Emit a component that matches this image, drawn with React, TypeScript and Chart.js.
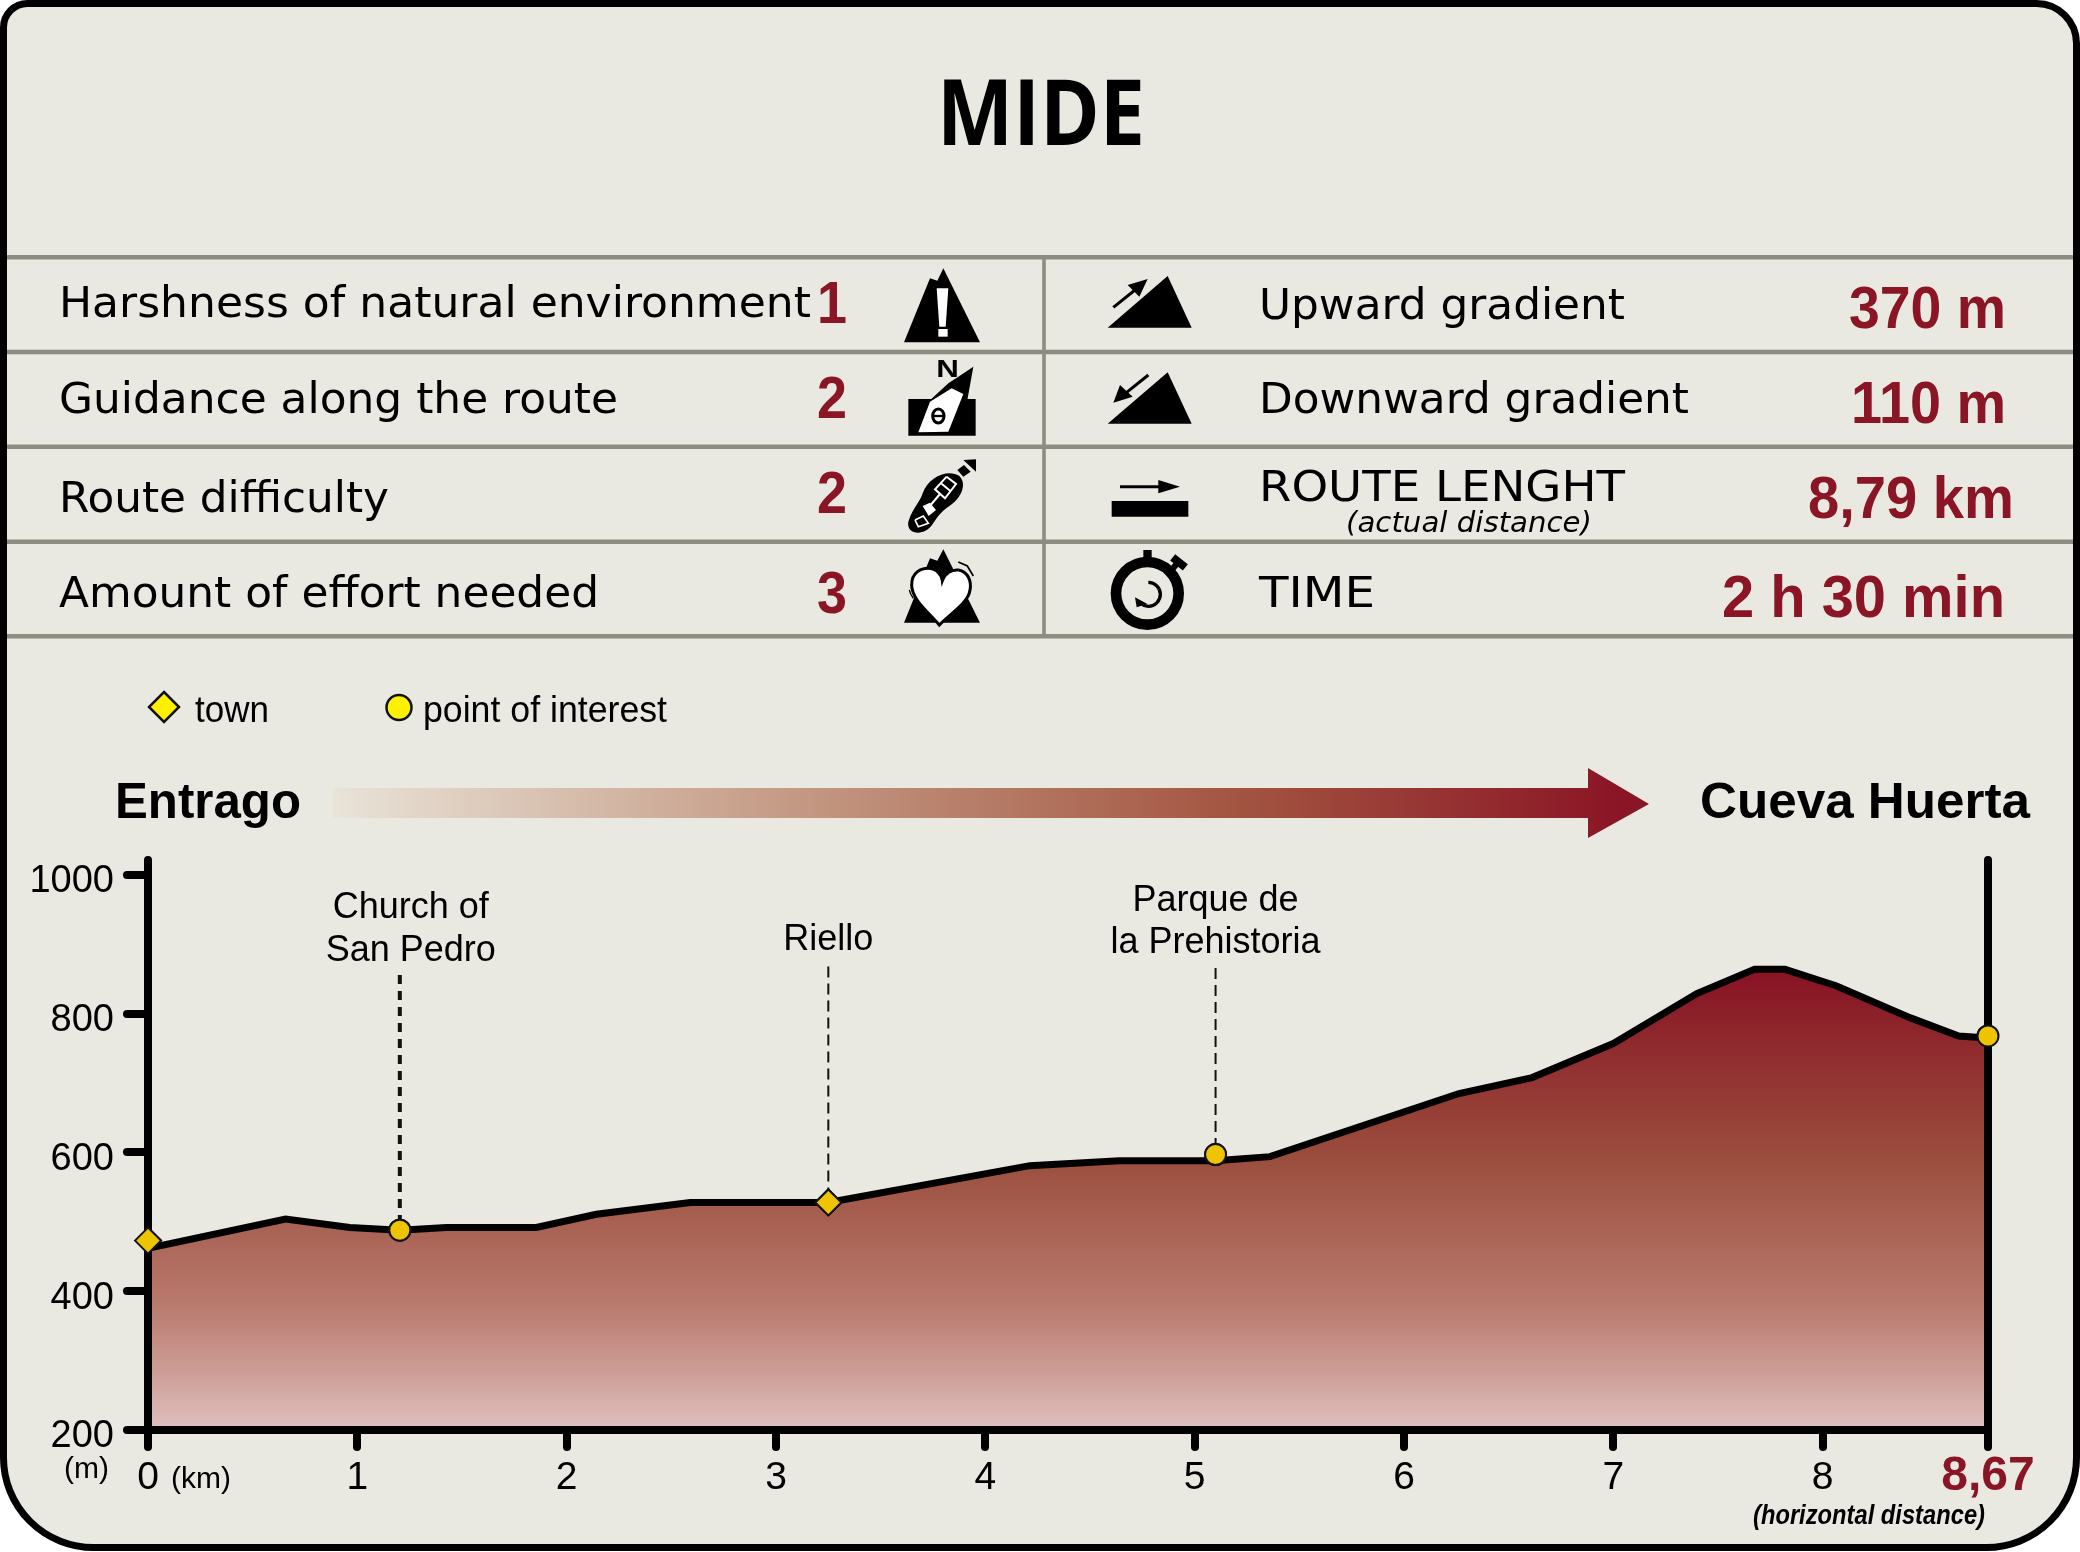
import React, { useEffect, useRef } from "react";
import Chart from "chart.js/auto";

// elevation profile, km along the axis / metres
const profileKm = [0, 0.657, 0.964, 1.203, 1.426, 1.855, 2.142, 2.59, 3.25, 4.213, 4.64, 5.1, 5.36, 6.263, 6.612, 7.0, 7.399, 7.675, 7.82, 8.067, 8.42, 8.65, 8.79];
const profileElev = [462, 504, 492, 488, 492, 492, 511, 528, 528, 581, 588, 588, 594, 685, 708, 757, 829, 864, 864, 840, 794, 768, 765];

const townKm = [0, 3.25];
const townElev = [473, 528];
const poiKm = [1.203, 5.1, 8.79];
const poiElev = [488, 597, 768];

const leaderKm = [1.203, 3.25, 5.1];
const leaderTop = [856, 868, 866];
const leaderBase = [488, 528, 597];

const xTicks = [0, 1, 2, 3, 4, 5, 6, 7, 8, 8.79];
const xTickLabels = ["0", "1", "2", "3", "4", "5", "6", "7", "8", "8,67"];
const yTicks = [200, 400, 600, 800, 1000];

const leftRows = ["Harshness of natural environment", "Guidance along the route", "Route difficulty", "Amount of effort needed"];
const leftScores = ["1", "2", "2", "3"];
const rightRows = ["Upward gradient", "Downward gradient", "ROUTE LENGHT", "TIME"];
const rightValues = ["370 m", "110 m", "8,79 km", "2 h 30 min"];

const RED = "#8a1525";
const BG = "#eae9e1";
const LINE_GREY = "#8c8c80";
const SANS = '"Liberation Sans"';
const VERDANA = '"DejaVu Sans"';

type Ctx = CanvasRenderingContext2D;

// width squeezes the text to a measured width, like the condensed look of the original
const put = (ctx: Ctx, str: string, x: number, y: number, font: string, color: string, align: CanvasTextAlign = "left", width?: number) => {
  ctx.save();
  ctx.font = font;
  ctx.fillStyle = color;
  ctx.textAlign = align;
  ctx.textBaseline = "alphabetic";
  ctx.translate(x, y);
  if (width) ctx.scale(width / ctx.measureText(str).width, 1);
  ctx.fillText(str, 0, 0);
  ctx.restore();
};

const poly = (ctx: Ctx, pts: number[], fill = "#000") => {
  ctx.fillStyle = fill;
  ctx.beginPath();
  for (let i = 0; i < pts.length; i += 2) {
    if (i === 0) ctx.moveTo(pts[i], pts[i + 1]);
    else ctx.lineTo(pts[i], pts[i + 1]);
  }
  ctx.closePath();
  ctx.fill();
};

const seg = (ctx: Ctx, pts: number[], width: number, color = "#000") => {
  ctx.strokeStyle = color;
  ctx.lineWidth = width;
  ctx.beginPath();
  for (let i = 0; i < pts.length; i += 2) {
    if (i === 0) ctx.moveTo(pts[i], pts[i + 1]);
    else ctx.lineTo(pts[i], pts[i + 1]);
  }
  ctx.stroke();
};

const drawLeftIcons = (ctx: Ctx) => {
  ctx.save();
  ctx.translate(880, 260);
  ctx.scale(1 / 3, 1 / 3);

  // harshness
  poly(ctx, [72, 247, 150, 55, 172, 62, 190, 25, 300, 247]);
  poly(ctx, [170, 85, 205, 85, 197, 200, 178, 200], "#fff");
  poly(ctx, [175, 207, 203, 207, 203, 230, 175, 230], "#fff");

  // guidance
  poly(ctx, [85, 417, 287, 417, 287, 527, 85, 527]);
  poly(ctx, [145, 425, 205, 370, 235, 350, 280, 320, 262, 420, 240, 430]);
  poly(ctx, [115, 517, 150, 425, 215, 385, 250, 402, 205, 515], "#fff");
  put(ctx, "N", 203, 350, `bold 72px ${SANS}`, "#000", "center", 68);
  ctx.strokeStyle = "#000";
  ctx.lineWidth = 9;
  ctx.beginPath();
  ctx.ellipse(175, 468, 17, 21, 0, 0, Math.PI * 2);
  ctx.stroke();
  seg(ctx, [160, 468, 190, 468], 7);

  // route difficulty
  ctx.fillStyle = "#000";
  ctx.beginPath();
  ctx.moveTo(85, 785);
  ctx.bezierCurveTo(98, 745, 122, 722, 128, 700);
  ctx.bezierCurveTo(145, 650, 205, 625, 238, 648);
  ctx.bezierCurveTo(265, 675, 238, 720, 208, 738);
  ctx.bezierCurveTo(178, 758, 168, 778, 158, 792);
  ctx.bezierCurveTo(135, 830, 78, 825, 85, 785);
  ctx.fill();
  poly(ctx, [232, 630, 252, 615, 272, 635, 250, 650]);
  poly(ctx, [250, 600, 288, 598, 288, 635]);
  seg(ctx, [200, 650, 228, 672, 195, 715, 165, 688, 200, 650], 6, "#fff");
  seg(ctx, [182, 669, 212, 694], 6, "#fff");
  seg(ctx, [180, 702, 152, 735], 6, "#fff");
  poly(ctx, [128, 738, 150, 728, 168, 750, 146, 768], "#fff");
  seg(ctx, [105, 780, 130, 768, 145, 790, 115, 800, 105, 780], 5, "#fff");

  // effort
  poly(ctx, [72, 1088, 150, 895, 172, 902, 190, 868, 300, 1088]);
  ctx.beginPath();
  ctx.moveTo(178, 1095);
  ctx.bezierCurveTo(150, 1060, 95, 1020, 95, 975);
  ctx.bezierCurveTo(95, 935, 125, 925, 145, 925);
  ctx.bezierCurveTo(170, 925, 185, 945, 187, 962);
  ctx.bezierCurveTo(195, 940, 215, 928, 235, 930);
  ctx.bezierCurveTo(265, 935, 275, 965, 270, 990);
  ctx.bezierCurveTo(265, 1030, 205, 1065, 178, 1095);
  ctx.closePath();
  ctx.fillStyle = "#fff";
  ctx.fill();
  ctx.strokeStyle = "#000";
  ctx.lineWidth = 9;
  ctx.stroke();
  seg(ctx, [235, 906, 262, 918, 280, 948], 5);
  seg(ctx, [88, 990, 92, 1002, 100, 1015], 4);
  ctx.restore();
};

const drawRightIcons = (ctx: Ctx) => {
  ctx.save();
  ctx.translate(1090, 260);
  ctx.scale(1 / 3, 1 / 3);

  // upward
  poly(ctx, [53, 203, 233, 48, 305, 203]);
  seg(ctx, [70, 142, 135, 90], 9);
  poly(ctx, [173, 57, 113, 75, 148, 110]);

  // downward
  poly(ctx, [53, 491, 233, 337, 305, 491]);
  seg(ctx, [175, 345, 110, 397], 9);
  poly(ctx, [70, 428, 90, 375, 128, 410]);

  // length
  seg(ctx, [90, 680, 210, 680], 9);
  poly(ctx, [205, 660, 270, 680, 205, 700]);
  poly(ctx, [65, 723, 295, 723, 295, 770, 65, 770]);

  // time
  ctx.strokeStyle = "#000";
  ctx.lineWidth = 32;
  ctx.beginPath();
  ctx.arc(172, 1000, 94, 0, Math.PI * 2);
  ctx.stroke();
  poly(ctx, [160, 870, 185, 870, 185, 900, 160, 900]);
  seg(ctx, [240, 935, 262, 910], 18);
  seg(ctx, [248, 892, 286, 922], 24);
  ctx.lineWidth = 10;
  ctx.beginPath();
  ctx.arc(175, 1003, 36, -Math.PI / 2, Math.PI * 0.72);
  ctx.stroke();
  poly(ctx, [135, 1012, 172, 1032, 140, 1042]);
  ctx.restore();
};

const drawFrame = (ctx: Ctx) => {
  ctx.fillStyle = "#fff";
  ctx.fillRect(0, 0, 2080, 1552);
  ctx.beginPath();
  ctx.roundRect(3.5, 3.5, 2073, 1544, [24, 40, 90, 90]);
  ctx.fillStyle = BG;
  ctx.fill();
  ctx.strokeStyle = "#000";
  ctx.lineWidth = 7;
  ctx.stroke();
};

const drawTable = (ctx: Ctx) => {
  put(ctx, "MIDE", 1041, 145, `bold 91px "Open Sans"`, "#000", "center", 208);

  [257.3, 352, 446.7, 541.7, 636.3].forEach((y) => seg(ctx, [7, y, 2073, y], 4.4, LINE_GREY));
  seg(ctx, [1044, 257, 1044, 636], 3.6, LINE_GREY);

  const leftBase = [317, 413, 512, 607];
  const leftWidth = [752, 559, 330, 540];
  const scoreBase = [323, 418, 513, 613];
  leftRows.forEach((row, i) => {
    put(ctx, row, 59, leftBase[i], `43px ${VERDANA}`, "#000", "left", leftWidth[i]);
    put(ctx, leftScores[i], 832, scoreBase[i], `bold 59px ${SANS}`, RED, "center", 30);
  });

  const rightBase = [319, 413, 501, 607];
  const rightWidth = [366, 430, 366, 116];
  const valueLeft = [1849, 1851, 1808, 1722];
  const valueWidth = [157, 155, 206, 283];
  const valueBase = [328, 423, 518, 617];
  rightRows.forEach((row, i) => {
    put(ctx, row, 1259, rightBase[i], `43px ${VERDANA}`, "#000", "left", rightWidth[i]);
    put(ctx, rightValues[i], valueLeft[i], valueBase[i], `bold 59px ${SANS}`, RED, "left", valueWidth[i]);
  });
  put(ctx, "(actual distance)", 1346, 532, `oblique 28px ${VERDANA}`, "#000", "left", 246);

  drawLeftIcons(ctx);
  drawRightIcons(ctx);
};

const drawLegend = (ctx: Ctx) => {
  poly(ctx, [164, 692, 179, 707, 164, 722, 149, 707], "#fff000");
  ctx.strokeStyle = "#111";
  ctx.lineWidth = 2.5;
  ctx.stroke();
  ctx.beginPath();
  ctx.arc(399, 707.5, 12.5, 0, Math.PI * 2);
  ctx.fillStyle = "#fff000";
  ctx.fill();
  ctx.stroke();
  put(ctx, "town", 195, 722, `36px ${SANS}`, "#000", "left", 74);
  put(ctx, "point of interest", 423, 722, `36px ${SANS}`, "#000", "left", 244);

  put(ctx, "Entrago", 115, 818, `bold 50px ${SANS}`, "#000", "left", 186);
  put(ctx, "Cueva Huerta", 1700, 818, `bold 50px ${SANS}`, "#000", "left", 330);

  const grad = ctx.createLinearGradient(333, 0, 1620, 0);
  grad.addColorStop(0, "#e9e3d8");
  grad.addColorStop(0.35, "rgb(197,155,133)");
  grad.addColorStop(0.7, "rgb(163,85,65)");
  grad.addColorStop(1, "rgb(138,21,37)");
  ctx.fillStyle = grad;
  ctx.beginPath();
  ctx.moveTo(333, 788);
  ctx.lineTo(1588, 788);
  ctx.lineTo(1588, 768);
  ctx.lineTo(1649, 804);
  ctx.lineTo(1588, 838);
  ctx.lineTo(1588, 818);
  ctx.lineTo(333, 818);
  ctx.closePath();
  ctx.fill();
};

const decorPlugin = {
  id: "decor",
  beforeDraw: (chart: any) => {
    const ctx: Ctx = chart.ctx;
    ctx.save();
    drawFrame(ctx);
    drawTable(ctx);
    drawLegend(ctx);
    ctx.restore();
    // axis lines and ticks have round ends in the original
    ctx.lineCap = "round";
  },
  afterDraw: (chart: any) => {
    const ctx: Ctx = chart.ctx;
    ctx.lineCap = "butt";
    // the axes sit on top of the area, the markers on top of the axes
    [0, 1].forEach((i) => chart.getDatasetMeta(i).data.forEach((pt: any) => pt.draw(ctx)));

    const x = chart.scales.x;
    const font = `36px ${SANS}`;
    put(ctx, "Church of", x.getPixelForValue(1.203) + 11, 918, font, "#000", "center");
    put(ctx, "San Pedro", x.getPixelForValue(1.203) + 11, 961, font, "#000", "center");
    put(ctx, "Riello", x.getPixelForValue(3.25), 950, font, "#000", "center");
    put(ctx, "Parque de", x.getPixelForValue(5.1), 911, font, "#000", "center");
    put(ctx, "la Prehistoria", x.getPixelForValue(5.1), 953, font, "#000", "center");

    put(ctx, "(m)", 64, 1478, `30px ${SANS}`, "#000");
    put(ctx, "(km)", 171, 1488, `30px ${SANS}`, "#000");
    put(ctx, "(horizontal distance)", 1753, 1524, `italic bold 27px ${SANS}`, "#000", "left", 232);
  },
};

export default function App() {
  const canvasRef = useRef<HTMLCanvasElement | null>(null);

  useEffect(() => {
    if (!canvasRef.current) return;
    const chart = new Chart(canvasRef.current, {
      type: "line",
      data: {
        datasets: [
          {
            label: "town",
            data: townKm.map((km, i) => ({ x: km, y: townElev[i] })),
            showLine: false,
            pointStyle: "rectRot",
            pointRadius: 13,
            pointBackgroundColor: "#eec300",
            pointBorderColor: "#111",
            pointBorderWidth: 2,
          },
          {
            label: "point of interest",
            data: poiKm.map((km, i) => ({ x: km, y: poiElev[i] })),
            showLine: false,
            pointStyle: "circle",
            pointRadius: 10.5,
            pointBackgroundColor: "#eec300",
            pointBorderColor: "#111",
            pointBorderWidth: 2,
          },
          ...leaderKm.map((km, i) => ({
            label: "leader",
            data: [
              { x: km, y: leaderTop[i] },
              { x: km, y: leaderBase[i] },
            ],
            borderColor: "#111",
            borderWidth: i === 0 ? 4 : 2,
            borderDash: i === 0 ? [9, 7] : [11, 6],
            pointRadius: 0,
          })),
          {
            label: "elevation",
            data: profileKm.map((km, i) => ({ x: km, y: profileElev[i] })),
            borderColor: "#000",
            borderWidth: 7,
            borderJoinStyle: "miter",
            pointRadius: 0,
            tension: 0,
            fill: "start",
            backgroundColor: (c: any) => {
              const y = c.chart.scales.y;
              if (!c.chart.chartArea || !y) return "#8a1525";
              const top = y.getPixelForValue(864);
              const bottom = y.getPixelForValue(200);
              if (!Number.isFinite(top) || !Number.isFinite(bottom)) return "#8a1525";
              const at = (px: number) => (px - top) / (bottom - top);
              const grad = c.chart.ctx.createLinearGradient(0, top, 0, bottom);
              grad.addColorStop(0, "rgb(136,18,35)");
              grad.addColorStop(at(1160), "rgb(155,78,62)");
              grad.addColorStop(at(1300), "rgb(184,120,108)");
              grad.addColorStop(at(1370), "rgb(204,156,148)");
              grad.addColorStop(1, "rgb(224,192,192)");
              return grad;
            },
          },
        ],
      },
      options: {
        responsive: false,
        animation: false,
        devicePixelRatio: 1,
        events: [],
        layout: { padding: { left: 0, right: 92, top: 860, bottom: 42 } },
        plugins: { legend: { display: false }, tooltip: { enabled: false } },
        scales: {
          x: {
            type: "linear",
            min: 0,
            max: 8.79,
            afterBuildTicks: (s: any) => {
              s.ticks = xTicks.map((value) => ({ value }));
            },
            afterFit: (s: any) => {
              s.height = 80;
            },
            border: { display: false },
            grid: {
              z: 1,
              // the two vertical axis lines are the first and the last grid line
              color: (c: any) => (c.tick && (c.tick.value === 0 || c.tick.value === 8.79) ? "#000" : "transparent"),
              lineWidth: 8,
              tickColor: "#000",
              tickWidth: 8,
              tickLength: 17,
            },
            ticks: {
              autoSkip: false,
              maxRotation: 0,
              padding: 8,
              callback: (_v: any, i: number) => xTickLabels[i],
              color: (c: any) => (c.tick && c.tick.value === 8.79 ? RED : "#000"),
              font: (c: any) =>
                c.tick && c.tick.value === 8.79
                  ? { family: "Liberation Sans", size: 48, weight: "bold", lineHeight: 0.9 }
                  : { family: "Liberation Sans", size: 39 },
            },
          },
          y: {
            min: 200,
            max: 1021.6,
            afterBuildTicks: (s: any) => {
              s.ticks = yTicks.map((value) => ({ value }));
            },
            afterFit: (s: any) => {
              s.width = 148;
            },
            border: { display: false },
            grid: {
              z: 1,
              color: (c: any) => (c.tick && c.tick.value === 200 ? "#000" : "transparent"),
              lineWidth: 8,
              tickColor: "#000",
              tickWidth: 8,
              tickLength: 21,
            },
            ticks: {
              padding: 13,
              labelOffset: 7,
              color: "#000",
              font: { family: "Liberation Sans", size: 38 },
              callback: (v: any) => String(v),
            },
          },
        },
      },
      plugins: [decorPlugin],
    } as any);

    return () => chart.destroy();
  }, []);

  return (
    <div style={{ position: "absolute", left: 0, top: 0, width: 2080, height: 1552 }}>
      <canvas ref={canvasRef} width={2080} height={1552} style={{ display: "block" }} />
    </div>
  );
}
